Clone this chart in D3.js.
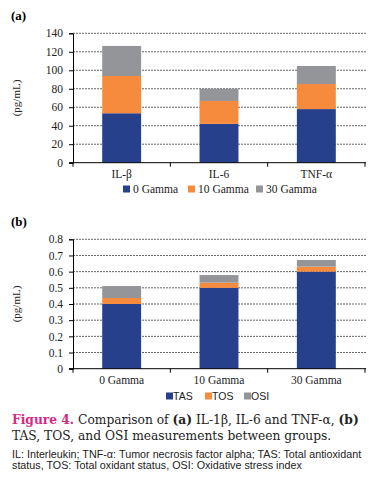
<!DOCTYPE html>
<html>
<head>
  <meta charset="utf-8">
  <script src="https://cdn.jsdelivr.net/npm/d3@7"></script>
  <style>
    body { margin: 0; background: #fff; }
    text { font-family: "Liberation Serif", "DejaVu Serif", serif; }
  </style>
</head>
<body>
  <div id="chart"></div>
  <script>
    // panel (a) data
    var cytoCats = ["IL-\u03b2", "IL-6", "TNF-\u03b1"];
    var gamma0 = [53.5, 42, 58];
    var gamma10 = [40.3, 24.8, 27.1];
    var gamma30 = [32.5, 13.3, 19.5];
    var cytoSeries = ["0 Gamma", "10 Gamma", "30 Gamma"];
    var cytoTicks = [0, 20, 40, 60, 80, 100, 120, 140];

    // panel (b) data
    var groupCats = ["0 Gamma", "10 Gamma", "30 Gamma"];
    var tas = [0.40, 0.50, 0.60];
    var tos = [0.037, 0.032, 0.031];
    var osi = [0.074, 0.047, 0.041];
    var oxSeries = ["TAS", "TOS", "OSI"];
    var oxTicks = [0, 0.1, 0.2, 0.3, 0.4, 0.5, 0.6, 0.7, 0.8];

    var colors = ["#26408c", "#f68a3d", "#939598"];

    var svg = d3.select("#chart").append("svg")
      .attr("width", 373).attr("height", 478);

    function drawPanel(opts) {
      var x = d3.scaleBand()
        .domain(opts.cats)
        .range([73, 365])
        .paddingInner(0.6)
        .paddingOuter(0.3);
      var y = d3.scaleLinear()
        .domain([0, opts.max])
        .range([opts.bottom, opts.top]);

      var stackData = opts.cats.map(function (c, i) {
        var o = { cat: c };
        opts.series.forEach(function (s, j) { o[s] = opts.values[j][i]; });
        return o;
      });
      var stacked = d3.stack().keys(opts.series)(stackData);

      // grid
      svg.append("g").selectAll("line")
        .data(opts.ticks.slice(1))
        .enter().append("line")
        .attr("x1", 73).attr("x2", 367)
        .attr("y1", function (d) { return y(d); })
        .attr("y2", function (d) { return y(d); })
        .attr("stroke", "#666")
        .attr("stroke-width", 1)
        .attr("stroke-dasharray", "2 1");

      // bars
      svg.append("g").selectAll("g")
        .data(stacked)
        .enter().append("g")
        .attr("fill", function (d, i) { return colors[i]; })
        .selectAll("rect")
        .data(function (d) { return d; })
        .enter().append("rect")
        .attr("x", function (d) { return x(d.data.cat); })
        .attr("width", x.bandwidth())
        .attr("y", function (d) { return y(d[1]); })
        .attr("height", function (d) { return y(d[0]) - y(d[1]); });

      // y axis
      var yAxis = svg.append("g")
        .attr("transform", "translate(73,0)")
        .call(d3.axisLeft(y).tickValues(opts.ticks).tickSize(4).tickPadding(6).tickFormat(opts.fmt));
      yAxis.select(".domain").attr("stroke", "#000");
      yAxis.selectAll("text").attr("font-size", 11.5).attr("fill", "#222")
        .style("font-family", "Liberation Serif");

      // x axis with boundary ticks
      var step = x.step();
      var bounds = d3.range(opts.cats.length + 1).map(function (i) { return 73 + i * step; });
      svg.append("line")
        .attr("x1", 69).attr("x2", 366)
        .attr("y1", opts.bottom).attr("y2", opts.bottom)
        .attr("stroke", "#000");
      svg.append("g").selectAll("line")
        .data(bounds)
        .enter().append("line")
        .attr("x1", function (d) { return d; }).attr("x2", function (d) { return d; })
        .attr("y1", opts.bottom).attr("y2", opts.bottom + 4)
        .attr("stroke", "#000");

      // category labels
      svg.append("g").selectAll("text")
        .data(opts.cats)
        .enter().append("text")
        .attr("x", function (d) { return x(d) + x.bandwidth() / 2; })
        .attr("y", opts.catY)
        .attr("text-anchor", "middle")
        .attr("font-size", 11.5)
        .attr("fill", "#222")
        .text(function (d) { return d; });

      // y label
      svg.append("text")
        .attr("transform", "translate(20," + ((opts.top + opts.bottom) / 2) + ") rotate(-90)")
        .attr("text-anchor", "middle")
        .attr("font-size", 11)
        .attr("fill", "#222")
        .text("(pg/mL)");

      // panel label
      svg.append("text")
        .attr("x", 11).attr("y", opts.top - 13)
        .attr("font-size", 13)
        .attr("font-weight", "bold")
        .text(opts.label);

      // legend
      var lg = svg.append("g");
      opts.series.forEach(function (s, i) {
        lg.append("rect")
          .attr("x", opts.legendX[i]).attr("y", opts.legendY - 3.5)
          .attr("width", 7).attr("height", 7)
          .attr("fill", colors[i]);
        lg.append("text")
          .attr("x", opts.legendX[i] + opts.legendGap).attr("y", opts.legendY + 4)
          .attr("font-size", opts.legendSize)
          .attr("fill", "#222")
          .style("font-family", opts.legendFont)
          .text(s);
      });
    }

    drawPanel({
      cats: cytoCats, series: cytoSeries, values: [gamma0, gamma10, gamma30],
      max: 140, top: 33.3, bottom: 162.7, ticks: cytoTicks,
      fmt: d3.format("d"), catY: 178, label: "(a)",
      legendX: [123, 188, 256], legendY: 189, legendGap: 10, legendSize: 11.5,
      legendFont: "Liberation Serif"
    });

    drawPanel({
      cats: groupCats, series: oxSeries, values: [tas, tos, osi],
      max: 0.8, top: 239.3, bottom: 368.7, ticks: oxTicks,
      fmt: function (d) { return d === 0 ? "0" : d.toFixed(1); }, catY: 384, label: "(b)",
      legendX: [166, 205, 244], legendY: 396, legendGap: 7, legendSize: 10.5,
      legendFont: "Liberation Sans"
    });

    // shrink a text's font until it fits the wanted width
    function fitWidth(sel, width, start) {
      var size = start;
      sel.attr("font-size", size);
      while (sel.node().getComputedTextLength() > width && size > 6) {
        size -= 0.25;
        sel.attr("font-size", size);
      }
    }

    // caption
    var cap = svg.append("text")
      .attr("x", 12).attr("y", 424)
      .attr("fill", "#222")
      .style("font-family", "DejaVu Serif");
    cap.append("tspan").attr("fill", "#d62a82").attr("font-weight", "bold").text("Figure 4.");
    cap.append("tspan").text(" Comparison of ");
    cap.append("tspan").attr("font-weight", "bold").text("(a)");
    cap.append("tspan").text(" IL-1\u03b2, IL-6 and TNF-\u03b1, ");
    cap.append("tspan").attr("font-weight", "bold").text("(b)");
    fitWidth(cap, 353, 14);
    var capSize = +cap.attr("font-size");

    svg.append("text")
      .attr("x", 12).attr("y", 440)
      .attr("font-size", capSize)
      .attr("fill", "#222")
      .style("font-family", "DejaVu Serif")
      .text("TAS, TOS, and OSI measurements between groups.");

    // footnote
    var notes = [
      "IL: Interleukin; TNF-\u03b1: Tumor necrosis factor alpha; TAS: Total antioxidant",
      "status, TOS: Total oxidant status, OSI: Oxidative stress index"
    ];
    var n0 = svg.append("text")
      .attr("x", 12).attr("y", 458)
      .attr("fill", "#222")
      .style("font-family", "Liberation Sans")
      .text(notes[0]);
    fitWidth(n0, 352, 11);
    svg.append("text")
      .attr("x", 12).attr("y", 469)
      .attr("font-size", n0.attr("font-size"))
      .attr("fill", "#222")
      .style("font-family", "Liberation Sans")
      .text(notes[1]);
  </script>
</body>
</html>
